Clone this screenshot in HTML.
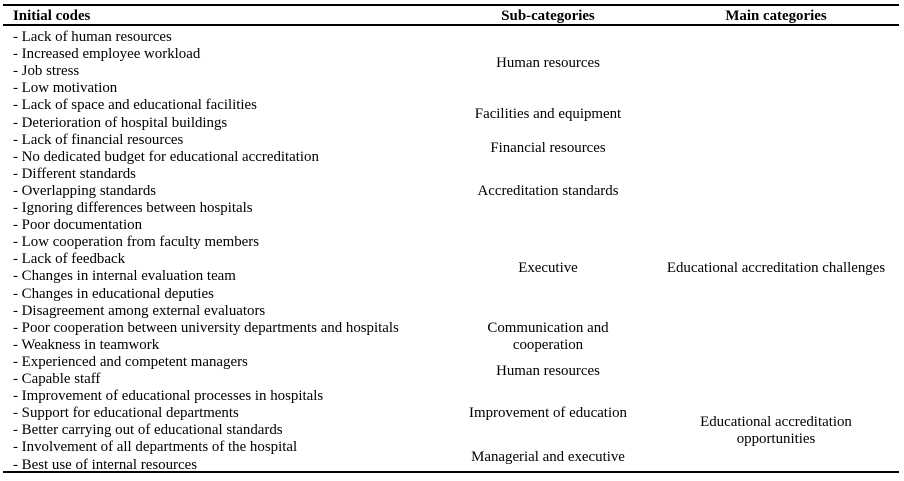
<!DOCTYPE html>
<html><head><style>
body{margin:0;width:904px;height:481px;background:#fff;position:relative;font-family:"Liberation Serif",serif;font-size:14.9px;color:#000;overflow:hidden}
.l{position:absolute;left:3px;width:896px;height:2px;background:#000}
.t{position:absolute;line-height:16px;white-space:nowrap;left:13px}
.c{position:absolute;line-height:17px;text-align:center;white-space:nowrap;transform:translateX(-50%)}
</style></head><body>
<div class="l" style="top:4px"></div>
<div class="l" style="top:24px"></div>
<div class="l" style="top:471px"></div>
<div class="t" style="top:8px;font-weight:bold">Initial codes</div>
<div class="c" style="left:548px;top:8px;font-weight:bold">Sub-categories</div>
<div class="c" style="left:776px;top:8px;font-weight:bold">Main categories</div>
<div class="c" style="left:548px;top:55px">Human resources</div>
<div class="c" style="left:548px;top:106px">Facilities and equipment</div>
<div class="c" style="left:548px;top:140px">Financial resources</div>
<div class="c" style="left:548px;top:183px">Accreditation standards</div>
<div class="c" style="left:548px;top:260px">Executive</div>
<div class="c" style="left:548px;top:320px">Communication and<br>cooperation</div>
<div class="c" style="left:548px;top:363px">Human resources</div>
<div class="c" style="left:548px;top:405px">Improvement of education</div>
<div class="c" style="left:548px;top:449px">Managerial and executive</div>
<div class="c" style="left:776px;top:260px">Educational accreditation challenges</div>
<div class="c" style="left:776px;top:414px">Educational accreditation<br>opportunities</div>
<div class="t" style="top:29px">- Lack of human resources</div>
<div class="t" style="top:46.1px">- Increased employee workload</div>
<div class="t" style="top:63.2px">- Job stress</div>
<div class="t" style="top:80.3px">- Low motivation</div>
<div class="t" style="top:97.4px">- Lack of space and educational facilities</div>
<div class="t" style="top:114.5px">- Deterioration of hospital buildings</div>
<div class="t" style="top:131.6px">- Lack of financial resources</div>
<div class="t" style="top:148.7px">- No dedicated budget for educational accreditation</div>
<div class="t" style="top:165.8px">- Different standards</div>
<div class="t" style="top:182.9px">- Overlapping standards</div>
<div class="t" style="top:200px">- Ignoring differences between hospitals</div>
<div class="t" style="top:217.1px">- Poor documentation</div>
<div class="t" style="top:234.2px">- Low cooperation from faculty members</div>
<div class="t" style="top:251.3px">- Lack of feedback</div>
<div class="t" style="top:268.4px">- Changes in internal evaluation team</div>
<div class="t" style="top:285.5px">- Changes in educational deputies</div>
<div class="t" style="top:302.6px">- Disagreement among external evaluators</div>
<div class="t" style="top:319.7px">- Poor cooperation between university departments and hospitals</div>
<div class="t" style="top:336.8px">- Weakness in teamwork</div>
<div class="t" style="top:353.9px">- Experienced and competent managers</div>
<div class="t" style="top:371px">- Capable staff</div>
<div class="t" style="top:388.1px">- Improvement of educational processes in hospitals</div>
<div class="t" style="top:405.2px">- Support for educational departments</div>
<div class="t" style="top:422.3px">- Better carrying out of educational standards</div>
<div class="t" style="top:439.4px">- Involvement of all departments of the hospital</div>
<div class="t" style="top:456.5px">- Best use of internal resources</div>
</body></html>
